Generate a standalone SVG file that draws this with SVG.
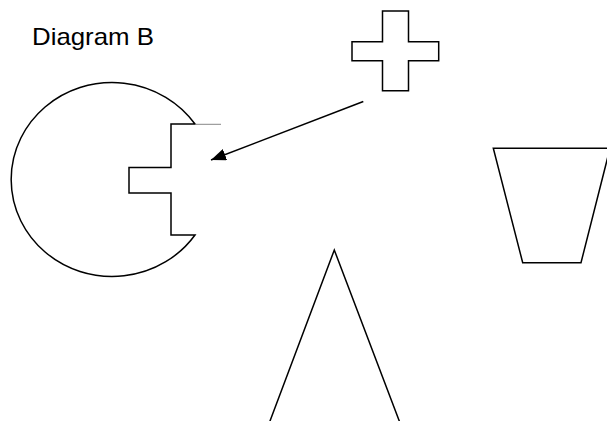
<svg xmlns="http://www.w3.org/2000/svg" width="607" height="421" viewBox="0 0 607 421">
<style>
.s{fill:none;stroke:#000;stroke-width:1.5;stroke-linejoin:miter}
.t{font-family:"Liberation Sans",Arial,sans-serif;font-size:24px;fill:#000}
</style>
<defs>
<marker id="ah" viewBox="0 0 15 12" refX="15" refY="6" markerWidth="15" markerHeight="12" markerUnits="userSpaceOnUse" orient="auto">
<path d="M0,0 L15,6 L0,12 Z" fill="#000"/>
</marker>
</defs>
<rect width="607" height="421" fill="#fff"/>
<g id="label"><text class="t" x="32" y="44.5" textLength="122" lengthAdjust="spacingAndGlyphs">Diagram B</text></g>
<g id="cutCircle">
<path class="s" d="M195,124 A101,97 0 1 0 195,235 L171,235 L171,193 L129,193 L129,167.5 L171,167.5 L171,124 Z"/>
<line x1="195" y1="124.3" x2="221" y2="124.3" stroke="#888" stroke-width="1"/>
</g>
<g id="cross">
<path class="s" d="M382.5,11 L408.5,11 L408.5,41.7 L438.7,41.7 L438.7,60.7 L408.5,60.7 L408.5,90.7 L382.5,90.7 L382.5,60.7 L352,60.7 L352,41.7 L382.5,41.7 Z"/>
</g>
<g id="trapezoid">
<path class="s" d="M493.3,148.3 L610,148.3 L581,262.7 L522.7,262.7 Z"/>
</g>
<g id="triangle">
<polyline class="s" points="268.5,425 334.3,250 400.8,425"/>
</g>
<g id="connectors">
<line x1="363.3" y1="101.5" x2="211" y2="160" stroke="#000" stroke-width="1.5" marker-end="url(#ah)"/>
</g>
</svg>
